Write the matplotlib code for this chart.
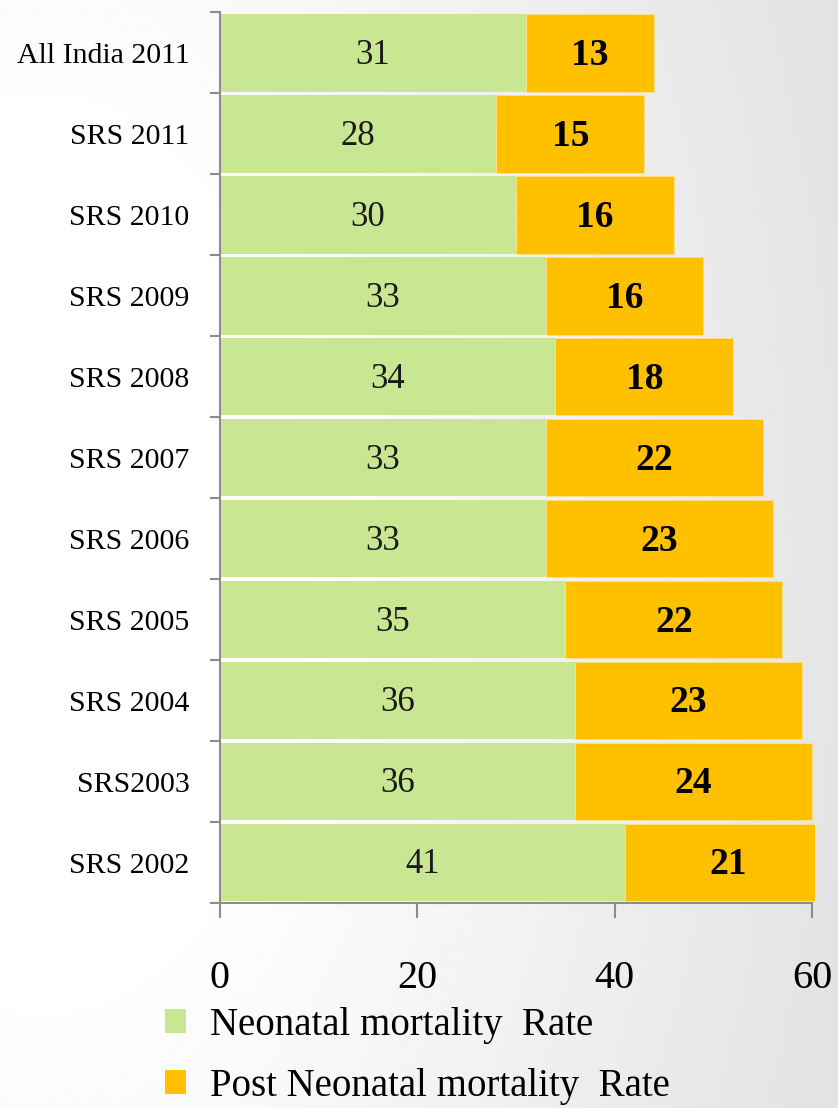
import numpy as np
import matplotlib
matplotlib.use('Agg')
import matplotlib.pyplot as plt
from matplotlib.patches import Patch

plt.rcParams['font.family'] = ['Liberation Serif', 'DejaVu Serif']

# Data (top to bottom as shown)
categories = ['All India 2011', 'SRS 2011', 'SRS 2010', 'SRS 2009', 'SRS 2008',
              'SRS 2007', 'SRS 2006', 'SRS 2005', 'SRS 2004', 'SRS2003', 'SRS 2002']
neonatal = [31, 28, 30, 33, 34, 33, 33, 35, 36, 36, 41]
post_neonatal = [13, 15, 16, 16, 18, 22, 23, 22, 23, 24, 21]
series_names = ['Neonatal mortality  Rate', 'Post Neonatal mortality  Rate']
x_ticks = [0, 20, 40, 60]

green = '#C9E693'
gold = '#FFC000'

fig = plt.figure(figsize=(8.38, 11.08), dpi=100)

# soft grey background gradient (white on the left, grey on the right)
bg = fig.add_axes([0, 0, 1, 1], zorder=-10)
gx, gy = np.meshgrid(np.linspace(0, 1, 300), np.linspace(0, 1, 300))
dist = np.clip(np.sqrt((gx - 0.05) ** 2 * 1.0 + (gy - 0.5) ** 2 * 0.6), 0, 1)
shade = 1.0 - 0.11 * np.clip((dist - 0.3) / 0.7, 0, 1)
bg.imshow(shade, cmap='gray', vmin=0, vmax=1, aspect='auto', extent=[0, 1, 0, 1])
bg.axis('off')

ax = fig.add_axes([0.2625, 0.185, 0.9725 - 0.2625, 0.989 - 0.185])
ax.patch.set_alpha(0)

y = np.arange(len(categories))
ax.barh(y, neonatal, height=0.96, color=green, edgecolor='none')
ax.barh(y, post_neonatal, left=neonatal, height=0.96, color=gold,
        edgecolor='#FFE08A', linewidth=0.6)

for i in range(len(categories)):
    ax.text(neonatal[i] / 2, y[i] + 0.03, str(neonatal[i]), ha='center', va='center',
            fontsize=25, color='#1a1a1a')
    ax.text(neonatal[i] + post_neonatal[i] / 2, y[i] + 0.03, str(post_neonatal[i]),
            ha='center', va='center', fontsize=27, fontweight='bold', color='black')

ax.set_xlim(0, 60.3)
ax.set_ylim(len(categories) - 0.5, -0.5)
ax.set_xticks(x_ticks)
ax.set_xticklabels([str(t) for t in x_ticks], fontsize=29)
ax.set_yticks(y)
ax.set_yticklabels(categories, fontsize=21.5)
ax.set_yticks(np.arange(-0.5, len(categories)), minor=True)

for s in ['top', 'right']:
    ax.spines[s].set_visible(False)
ax.spines['bottom'].set_bounds(0, 60)
ax.spines['left'].set_color('#8c8c8c')
ax.spines['bottom'].set_color('#8c8c8c')
ax.spines['left'].set_linewidth(1.5)
ax.spines['bottom'].set_linewidth(1.5)
ax.tick_params(axis='y', which='major', length=0, pad=22)
ax.tick_params(axis='y', which='minor', length=7, width=1.5, color='#8c8c8c')
ax.tick_params(axis='x', which='major', length=11, width=1.5, color='#8c8c8c', pad=30)

handles = [Patch(facecolor=green), Patch(facecolor=gold)]
fig.legend(handles, series_names, loc='lower left', bbox_to_anchor=(0.197, 0.003),
           frameon=False, fontsize=28, handlelength=0.55, handleheight=0.55,
           handletextpad=0.6, labelspacing=0.62, borderaxespad=0, borderpad=0)

fig.savefig('out.png', dpi=100)
